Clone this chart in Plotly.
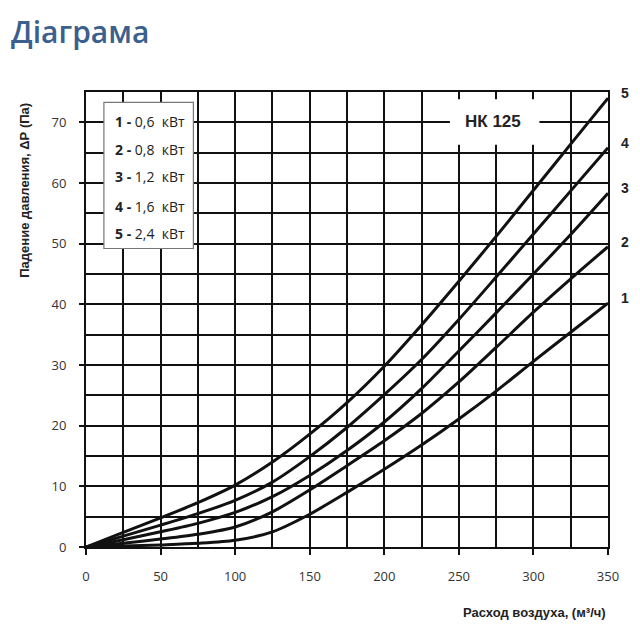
import plotly.graph_objects as go

# air flow, m3/h
flow = [0, 25, 50, 75, 100, 125, 150, 175, 200, 225, 250, 275, 300, 325, 350]

# pressure drop, Pa
dp_1 = [0, 0.15, 0.35, 0.6, 1.1, 2.5, 5.4, 9.0, 12.8, 16.8, 21.1, 25.7, 30.6, 35.4, 40.2]
dp_2 = [0, 0.6, 1.3, 2.1, 3.3, 5.8, 9.4, 13.4, 17.5, 22.0, 27.2, 32.9, 38.7, 44.2, 49.5]
dp_3 = [0, 1.2, 2.5, 3.9, 5.7, 8.3, 11.8, 15.9, 20.6, 26.1, 32.3, 38.6, 45.0, 51.5, 58.3]
dp_4 = [0, 1.8, 3.6, 5.5, 7.7, 10.7, 14.9, 19.7, 25.1, 30.9, 37.5, 44.5, 51.6, 58.7, 65.8]
dp_5 = [0, 2.4, 4.8, 7.3, 10.2, 14.0, 18.6, 23.8, 29.8, 36.6, 43.8, 51.2, 58.8, 66.4, 74.0]

curves = [dp_1, dp_2, dp_3, dp_4, dp_5]
curve_names = ["1", "2", "3", "4", "5"]
powers = ["0,6", "0,8", "1,2", "1,6", "2,4"]
legend_rows = [70.2, 65.5, 61.1, 56.2, 51.7]

fig = go.Figure()

for name, y in zip(curve_names, curves):
    fig.add_trace(go.Scatter(x=flow, y=y, mode="lines", name=name,
                             line=dict(color="#111111", width=3, shape="spline", smoothing=0.8),
                             showlegend=False))
    # curve number at the right end
    fig.add_annotation(x=flow[-1], y=y[-1], text="<b>" + name + "</b>", showarrow=False,
                       xanchor="left", xshift=11, yshift=5,
                       font=dict(size=14, color="#222222", family="Liberation Sans"))

# legend box
fig.add_shape(type="rect", x0=12, x1=72, y0=49.2, y1=73.3, layer="above",
              fillcolor="white", line=dict(color="#777777", width=1.2))
for name, pw, ry in zip(curve_names, powers, legend_rows):
    fig.add_annotation(x=18, y=ry, xanchor="left", showarrow=False,
                       text="<b>" + name + " -</b> " + pw + "  кВт",
                       font=dict(size=14, color="#222222", family="Open Sans"))

# model label
fig.add_shape(type="rect", x0=244, x1=304, y0=66.3, y1=73.8, layer="above",
              fillcolor="white", line=dict(width=0))
fig.add_annotation(x=273, y=70.1, text="<b>НК 125</b>", showarrow=False,
                   font=dict(size=17, color="#222222", family="Liberation Sans"))

# page heading
fig.add_annotation(x=-0.148, y=1.132, xref="paper", yref="paper", xanchor="left", yanchor="middle",
                   text="Діаграма", showarrow=False,
                   font=dict(size=30, color="#3b5f8e", family="Open Sans", weight=600))

# axis titles
fig.add_annotation(x=1.0, y=-0.143, xref="paper", yref="paper", xanchor="right", yanchor="middle",
                   text="<b>Расход воздуха, (м³/ч)</b>", showarrow=False,
                   font=dict(size=13, color="#222222", family="Liberation Sans"))
fig.add_annotation(x=-0.117, y=0.785, xref="paper", yref="paper", xanchor="center", yanchor="middle",
                   text="<b>Падение давления, ΔР (Па)</b>", showarrow=False, textangle=-90,
                   font=dict(size=13, color="#222222", family="Liberation Sans"))

# the page adds an 8px body margin, so the figure is a bit smaller than the window
grid = dict(gridcolor="#111111", gridwidth=2)
fig.update_layout(
    width=632, height=632,
    template="plotly_white",
    plot_bgcolor="white", paper_bgcolor="white",
    margin=dict(l=78, r=32, t=84, b=93),
    font=dict(family="Open Sans", size=13, color="#333333"),
    xaxis=dict(range=[0, 350], dtick=50, ticks="outside", ticklen=6, tickwidth=2, tickcolor="#111111",
               showline=True, linecolor="#111111", linewidth=2, mirror=True, zeroline=False,
               automargin=False, ticklabelstandoff=10,
               minor=dict(dtick=25, showgrid=True, ticks="", **grid), **grid),
    yaxis=dict(range=[0, 75], dtick=10, ticks="outside", ticklen=5, tickwidth=2, tickcolor="#111111",
               showline=True, linecolor="#111111", linewidth=2, mirror=True, zeroline=False,
               automargin=False, ticklabelstandoff=10,
               minor=dict(dtick=5, showgrid=True, ticks="", **grid), **grid),
)

fig.write_html("out.html")
